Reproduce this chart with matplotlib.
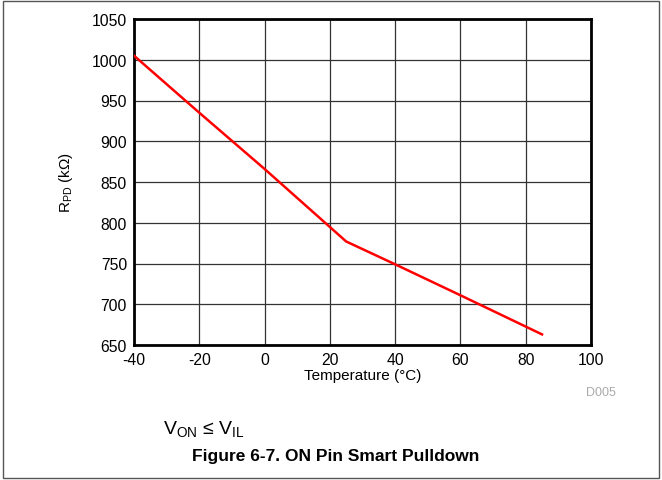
import numpy as np
import matplotlib.pyplot as plt
from matplotlib.patches import Rectangle

plt.rcParams['font.family'] = ['Liberation Sans', 'DejaVu Sans']
plt.rcParams['axes.unicode_minus'] = False

# Werte
temp = [-40, -20, 0, 25, 40, 60, 85]
rpd = [1005, 935, 866, 777, 749, 711, 663]

xticks = [-40, -20, 0, 20, 40, 60, 80, 100]
yticks = [650, 700, 750, 800, 850, 900, 950, 1000, 1050]

fig = plt.figure(figsize=(6.62, 4.81), dpi=100)
W, H = 662, 481
ax = fig.add_axes([134 / W, 1 - 346 / H, (591 - 134) / W, (346 - 20) / H])

ax.plot(temp, rpd, color='red', linewidth=1.8, zorder=3)

ax.set_xlim(-40, 100)
ax.set_ylim(650, 1050)
ax.set_xticks(xticks)
ax.set_yticks(yticks)
ax.grid(True, color='#333333', linewidth=0.9)
ax.tick_params(length=0, labelsize=11.3, pad=5)
for s in ax.spines.values():
    s.set_linewidth(2)
    s.set_color('black')

ax.set_xlabel('Temperature (°C)', fontsize=11, labelpad=1)
ax.set_ylabel(r'R$_{\mathregular{PD}}$ (kΩ)', fontsize=11, labelpad=12)

fig.text(586 / W, 1 - 393 / H, 'D005', fontsize=9, color='#aaaaaa', ha='left', va='center')
fig.text(163 / W, 1 - 430 / H, r'V$_{\mathregular{ON}}$ ≤ V$_{\mathregular{IL}}$', fontsize=14,
         ha='left', va='center')
fig.text(336 / W, 1 - 456 / H, 'Figure 6-7. ON Pin Smart Pulldown', fontsize=12.5,
         fontweight='bold', ha='center', va='center')

# Rahmen um die ganze Abbildung
fig.patches.append(Rectangle((3 / W, 2 / H), (W - 6) / W, (H - 4) / H, transform=fig.transFigure,
                             fill=False, edgecolor='#555555', linewidth=1))

fig.savefig('out.png', dpi=100)
